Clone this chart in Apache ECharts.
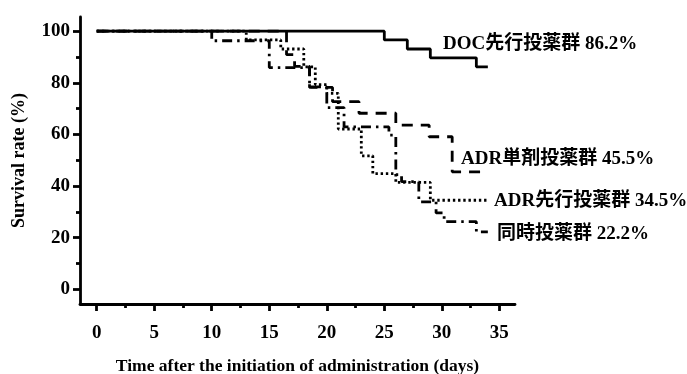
<!DOCTYPE html>
<html><head><meta charset="utf-8">
<script src="https://cdn.jsdelivr.net/npm/echarts@6/dist/echarts.min.js"></script>
<style>html,body{margin:0;padding:0;background:#fff}#c{width:687px;height:374px}</style>
</head><body><div id="c"></div>
<script>
// ---- data ----
const docT = [0, 25, 27, 29, 33, 34];
const docV = [100, 96.6, 93.1, 89.7, 86.2, 86.2];
const adrSoloT = [0, 16.5, 17.2, 18.5, 20.5, 22.8, 26, 28.9, 30.9, 34];
const adrSoloV = [100, 90.9, 86.4, 78.2, 72.7, 68.2, 63.6, 59.1, 45.5, 45.5];
const adrPreT = [0, 13, 16, 18, 19, 20, 21, 23, 24, 26, 29, 34];
const adrPreV = [100, 96.6, 93.1, 86.2, 79.3, 75.9, 62.1, 51.7, 44.8, 41.4, 34.5, 34.5];
const simT = [0, 10, 15, 18.5, 20, 21.5, 25.4, 26, 26.5, 28, 29.5, 30.2, 33, 34];
const simV = [100, 96.3, 85.9, 78.4, 70.4, 62.9, 59.7, 44.4, 41.7, 33.9, 29.6, 26.2, 22.2, 22.2];
const xMajorTicks = [0, 5, 10, 15, 20, 25, 30, 35];
const xMinorTicks = [2.5, 7.5, 12.5, 17.5, 22.5, 27.5, 32.5];
const yMajorTicks = [0, 20, 40, 60, 80, 100];
const yMinorTicks = [10, 30, 50, 70, 90];
const labels = [
  {text: 'DOC先行投薬群 86.2%', x: 443, y: 46},
  {text: 'ADR単剤投薬群 45.5%', x: 461, y: 161},
  {text: 'ADR先行投薬群 34.5%', x: 494, y: 203},
  {text: '同時投薬群 22.2%', x: 497, y: 236}
];
const xTitle = 'Time after the initiation of administration (days)';
const yTitle = 'Survival rate (%)';

const zip = (t, v) => t.map((x, i) => [x, v[i]]);
const FF = '"Liberation Serif","Times New Roman","Noto Sans CJK JP",serif';
const XMIN = -1.452, XMAX = 36.36, YMIN = -5.71, YMAX = 105.5;

function line(name, t, v, type) {
  return {
    name, type: 'line', step: 'end', data: zip(t, v), symbol: 'none',
    lineStyle: {color: '#000', width: 2.8, type: type, cap: 'butt'},
    xAxisIndex: 0, yAxisIndex: 0, z: 3
  };
}

const chart = echarts.init(document.getElementById('c'), null, {renderer: 'canvas'});
chart.setOption({
  animation: false,
  backgroundColor: '#fff',
  grid: {left: 80, top: 17, right: 172, bottom: 70, containLabel: false, outerBoundsMode: 'none'},
  xAxis: [{
    type: 'value', min: XMIN, max: XMAX,
    axisLine: {show: true, onZero: false, lineStyle: {color: '#000', width: 2.8}},
    axisTick: {show: true, length: 7, customValues: xMajorTicks, lineStyle: {color: '#000', width: 2.8}},
    axisLabel: {show: true, customValues: xMajorTicks, margin: 20, color: '#000', fontSize: 19, fontWeight: 'bold', fontFamily: FF},
    splitLine: {show: false},
    name: xTitle, nameLocation: 'middle', nameGap: 54,
    nameTextStyle: {color: '#000', fontSize: 17.5, fontWeight: 'bold', fontFamily: FF}
  }, {
    type: 'value', min: XMIN, max: XMAX, position: 'bottom',
    axisLine: {show: false, onZero: false},
    axisTick: {show: true, length: 4, customValues: xMinorTicks, lineStyle: {color: '#000', width: 2.8}},
    axisLabel: {show: false}, splitLine: {show: false}
  }],
  yAxis: [{
    type: 'value', min: YMIN, max: YMAX,
    axisLine: {show: true, onZero: false, lineStyle: {color: '#000', width: 2.8}},
    axisTick: {show: true, length: 7, customValues: yMajorTicks, lineStyle: {color: '#000', width: 2.8}},
    axisLabel: {show: true, customValues: yMajorTicks, margin: 10, color: '#000', fontSize: 19, fontWeight: 'bold', fontFamily: FF},
    splitLine: {show: false},
    name: yTitle, nameLocation: 'middle', nameGap: 52, nameRotate: 90,
    nameTextStyle: {color: '#000', fontSize: 18, fontWeight: 'bold', fontFamily: FF}
  }, {
    type: 'value', min: YMIN, max: YMAX, position: 'left',
    axisLine: {show: false, onZero: false},
    axisTick: {show: true, length: 4, customValues: yMinorTicks, lineStyle: {color: '#000', width: 2.8}},
    axisLabel: {show: false}, splitLine: {show: false}
  }],
  series: [
    line('DOC', docT, docV, 'solid'),
    line('ADR単剤', adrSoloT, adrSoloV, [11, 8]),
    line('ADR先行', adrPreT, adrPreV, [2.4, 2.8]),
    line('同時', simT, simV, [10, 5, 2.5, 5])
  ],
  graphic: labels.map(l => ({
    type: 'text', left: l.x, top: l.y - 11,
    style: {text: l.text, fill: '#000', fontSize: 19, fontWeight: 'bold', fontFamily: FF}
  }))
});
</script></body></html>
